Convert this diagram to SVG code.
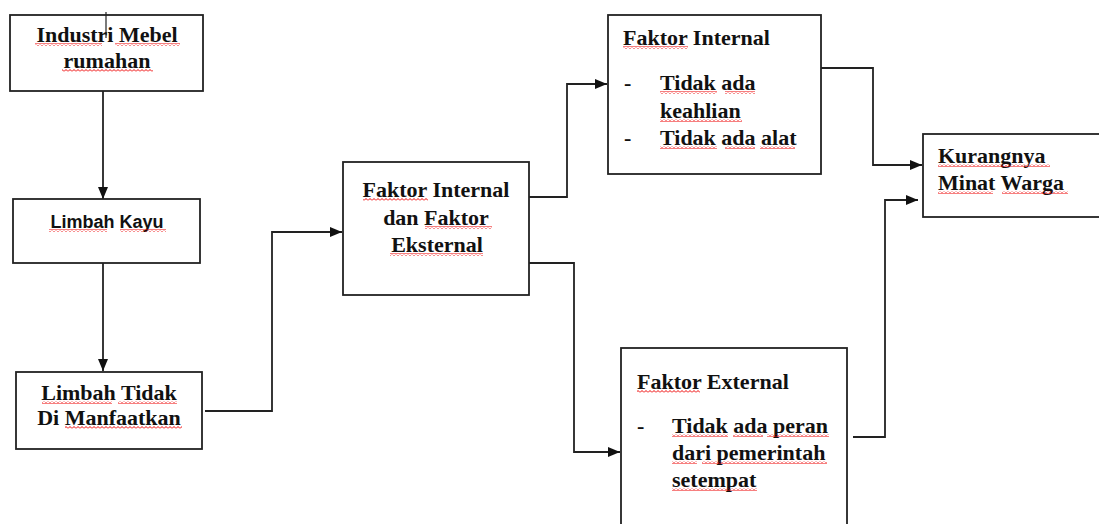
<svg xmlns="http://www.w3.org/2000/svg" width="1099" height="524" viewBox="0 0 1099 524">
<style>
.box{fill:#fff;stroke:#222;stroke-width:1.8}
.t{font-family:"Liberation Serif","Times New Roman",serif;font-weight:bold;font-size:22px;fill:#111}
.s{font-family:"Liberation Sans",Arial,sans-serif;font-weight:bold;font-size:18px;fill:#111}
.m{text-anchor:middle}
.c{fill:none;stroke:#222;stroke-width:1.8}
.sq{fill:url(#sq)}
</style>
<defs>
<marker id="ah" viewBox="0 0 12 10" refX="12" refY="5" markerWidth="12" markerHeight="10" markerUnits="userSpaceOnUse" orient="auto">
<path d="M0,0 L12,5 L0,10 Z" fill="#111"/>
</marker>
<pattern id="sq" patternUnits="userSpaceOnUse" width="4" height="3">
<path d="M0,2.5 L2,0.5 L4,2.5" fill="none" stroke="#e00" stroke-width="1"/>
</pattern>
</defs>
<rect width="1099" height="524" fill="#fff"/>

<g id="connectors">
<path class="c" d="M103,91 V199" marker-end="url(#ah)"/>
<path class="c" d="M103,263 V371" marker-end="url(#ah)"/>
<path class="c" d="M205,411 H272 V232 H342" marker-end="url(#ah)"/>
<path class="c" d="M529,197 H567 V84 H607" marker-end="url(#ah)"/>
<path class="c" d="M529,263 H574 V452 H620" marker-end="url(#ah)"/>
<path class="c" d="M821,68 H873 V165 H922" marker-end="url(#ah)"/>
<path class="c" d="M853,437 H885 V200 H918" marker-end="url(#ah)"/>
</g>

<g id="n1">
<rect class="box" x="10" y="15" width="193" height="76"/>
<line x1="106" y1="12" x2="106" y2="38" stroke="#222" stroke-width="1.2"/>
<text class="t m" x="107" y="42">Industri Mebel</text>
<text class="t m" x="107" y="68">rumahan</text>
<rect class="sq" x="35" y="43" width="67" height="3"/>
<rect class="sq" x="115" y="43" width="65" height="3"/>
<rect class="sq" x="62" y="69" width="91" height="3"/>
</g>

<g id="n2">
<rect class="box" x="13" y="199" width="187" height="64"/>
<text class="s m" x="107" y="228">Limbah Kayu</text>
<rect class="sq" x="49" y="229" width="58" height="3"/>
<rect class="sq" x="120" y="229" width="46" height="3"/>
</g>

<g id="n3">
<rect class="box" x="16" y="372" width="186" height="77"/>
<text class="t m" x="109" y="400">Limbah Tidak</text>
<text class="t m" x="109" y="425">Di Manfaatkan</text>
<rect class="sq" x="42" y="401" width="70" height="3"/>
<rect class="sq" x="118" y="401" width="59" height="3"/>
<rect class="sq" x="65" y="426" width="117" height="3"/>
</g>

<g id="n4">
<rect class="box" x="343" y="162" width="186" height="133"/>
<text class="t m" x="436" y="197">Faktor Internal</text>
<text class="t m" x="436" y="225">dan Faktor</text>
<text class="t m" x="437" y="252">Eksternal</text>
<rect class="sq" x="363" y="198" width="65" height="3"/>
<rect class="sq" x="425" y="226" width="67" height="3"/>
<rect class="sq" x="390" y="253" width="93" height="3"/>
</g>

<g id="n5">
<rect class="box" x="608" y="15" width="213" height="159"/>
<text class="t" x="623" y="45">Faktor Internal</text>
<text class="t" x="624" y="90">-</text>
<text class="t" x="660" y="90">Tidak ada</text>
<text class="t" x="660" y="118">keahlian</text>
<text class="t" x="624" y="145">-</text>
<text class="t" x="660" y="145">Tidak ada alat</text>
<rect class="sq" x="623" y="46" width="65" height="3"/>
<rect class="sq" x="660" y="91" width="57" height="3"/>
<rect class="sq" x="725" y="91" width="30" height="3"/>
<rect class="sq" x="660" y="119" width="82" height="3"/>
<rect class="sq" x="660" y="146" width="57" height="3"/>
<rect class="sq" x="725" y="146" width="30" height="3"/>
<rect class="sq" x="760" y="146" width="35" height="3"/>
</g>

<g id="n6">
<rect class="box" x="621" y="348" width="226" height="190"/>
<text class="t" x="637" y="389">Faktor External</text>
<text class="t" x="637" y="433">-</text>
<text class="t" x="672" y="433">Tidak ada peran</text>
<text class="t" x="672" y="460">dari pemerintah</text>
<text class="t" x="672" y="487">setempat</text>
<rect class="sq" x="637" y="390" width="63" height="3"/>
<rect class="sq" x="672" y="434" width="56" height="3"/>
<rect class="sq" x="733" y="434" width="30" height="3"/>
<rect class="sq" x="767" y="434" width="62" height="3"/>
<rect class="sq" x="672" y="461" width="25" height="3"/>
<rect class="sq" x="702" y="461" width="125" height="3"/>
<rect class="sq" x="672" y="488" width="85" height="3"/>
</g>

<g id="n7">
<rect class="box" x="923" y="134" width="190" height="83"/>
<text class="t" x="938" y="163">Kurangnya</text>
<text class="t" x="938" y="190">Minat Warga</text>
<rect class="sq" x="938" y="164" width="112" height="3"/>
<rect class="sq" x="938" y="191" width="55" height="3"/>
<rect class="sq" x="1002" y="191" width="66" height="3"/>
</g>
</svg>
